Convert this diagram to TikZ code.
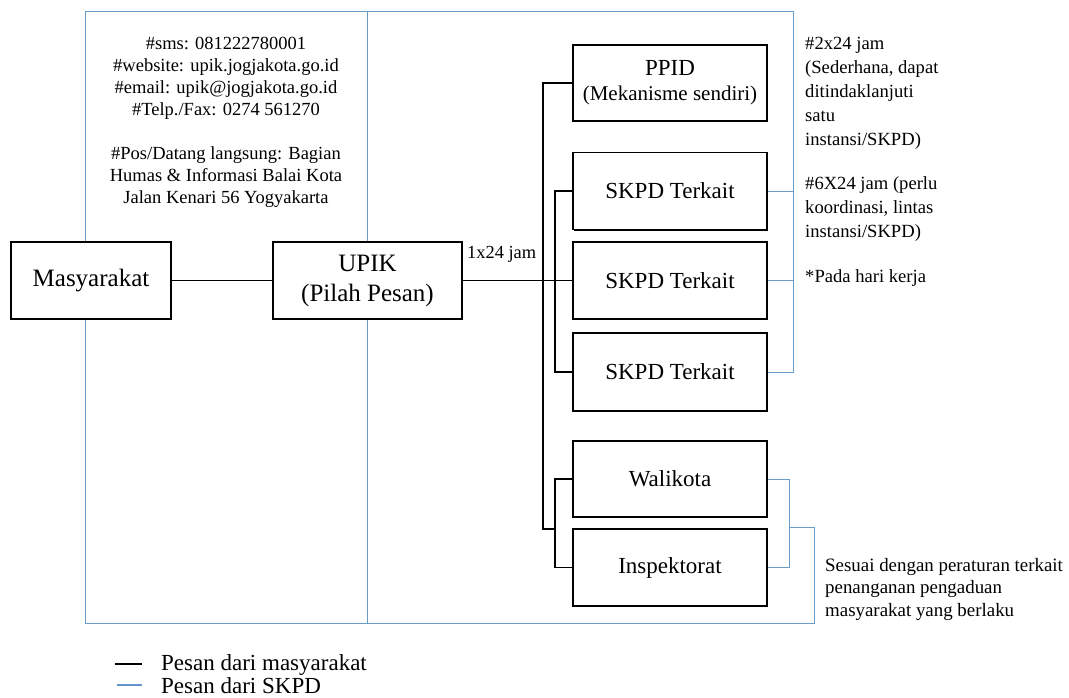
\documentclass[tikz,border=0pt]{standalone}
\usepackage{fontspec}
\setmainfont{Liberation Serif}
\usetikzlibrary{shadows}
\definecolor{skpdblue}{RGB}{105,155,200}
\definecolor{legblue}{RGB}{100,150,205}
\begin{document}
\begin{tikzpicture}[x=1pt,y=-1pt,
  box/.style={draw, line width=1.4pt, fill=white, inner sep=0pt, align=center,
    minimum width=194pt, minimum height=77pt,
    drop shadow={shadow xshift=1.1pt, shadow yshift=-1.1pt, fill=black, opacity=1}},
  bigfont/.style={font=\fontsize{25}{30}\selectfont},
  midfont/.style={font=\fontsize{23}{27}\selectfont},
  blk/.style={line width=1.1pt, black},
  blu/.style={line width=1pt, skpdblue},
  note/.style={inner sep=0pt, align=left, font=\fontsize{18.6}{24}\selectfont},
  info/.style={inner sep=0pt, align=center, font=\fontsize{18.5}{22}\selectfont},
  legtext/.style={inner sep=0pt, anchor=west, font=\fontsize{23}{23}\selectfont}
]
\useasboundingbox (0,0) rectangle (1069,697);
\fill[white] (0,0) rectangle (1069,697);

% coordinates of the blue frame
\coordinate (tl) at (85,11);
\coordinate (tm) at (367,11);
\coordinate (tr) at (793,11);
\coordinate (bl) at (85,623);
\coordinate (br) at (814,623);
\coordinate (jb) at (789,527);
\coordinate (j1) at (543,529);
\coordinate (j2) at (555,529);

% boxes
\node[box, bigfont, minimum width=160pt] (mas) at (91,280.5) {Masyarakat};
\node[box, bigfont, minimum width=189pt] (upik) at (367.5,280.5) {UPIK\\(Pilah Pesan)};
\node[box, minimum height=76pt, font=\fontsize{21}{25}\selectfont] (ppid) at (670,83) {{\fontsize{23}{25}\selectfont PPID}\\(Mekanisme sendiri)};
\node[box, midfont] (sk1) at (670,191) {SKPD Terkait};
\node[box, midfont] (sk2) at (670,280.5) {SKPD Terkait};
\node[box, midfont, minimum height=78pt] (sk3) at (670,372) {SKPD Terkait};
\node[box, midfont, minimum height=76pt] (wali) at (670,479) {Walikota};
\node[box, midfont] (insp) at (670,567.5) {Inspektorat};

% blue connectors (Pesan dari SKPD)
\draw[blu] (mas.north -| tl) -- (tl) -- (tr) -- (tr |- sk3.east) -- (sk3.east);
\draw[blu] (sk1.east) -- (sk1.east -| tr);
\draw[blu] (sk2.east) -- (sk2.east -| tr);
\draw[blu] (tm) -- (upik.north -| tm);
\draw[blu] (mas.south -| tl) -- (bl) -- (br) -- (br |- jb) -- (jb);
\draw[blu] (upik.south -| tm) -- (tm |- bl);
\draw[blu] (wali.east) -- (wali.east -| jb) -- (insp.east -| jb) -- (insp.east);

% black connectors (Pesan dari masyarakat)
\draw[blk] (mas.east) -- (upik.west);
\draw[blk] (upik.east) -- (sk2.west);
\draw[blk] (ppid.west) -| (j1) -- (j2);
\draw[blk] (sk1.west) -- (sk1.west -| j2) -- (sk3.west -| j2) -- (sk3.west);
\draw[blk] (wali.west) -- (wali.west -| j2) -- (insp.west -| j2) -- (insp.west);

% labels
\node[inner sep=0pt, anchor=west, font=\fontsize{18.4}{22}\selectfont] (lbl) at (467,254) {1x24 jam};

\node[info, anchor=north] (info1) at (226,37) {\#sms: 081222780001\\\#website: upik.jogjakota.go.id\\\#email: upik@jogjakota.go.id\\\#Telp./Fax: 0274 561270};
\node[info, anchor=north] (info2) at (226,146) {\#Pos/Datang langsung: Bagian\\Humas \& Informasi Balai Kota\\Jalan Kenari 56 Yogyakarta};

\node[note, anchor=north west] (n1) at (805,37) {\#2x24 jam\\(Sederhana, dapat\\ditindaklanjuti\\satu\\instansi/SKPD)};
\node[note, anchor=north west] (n2) at (805,176) {\#6X24 jam (perlu\\koordinasi, lintas\\instansi/SKPD)};
\node[note, anchor=north west] (n3) at (805,269) {*Pada hari kerja};

\node[inner sep=0pt, align=left, anchor=north west, font=\fontsize{18.9}{22.5}\selectfont] (n4) at (825,558) {Sesuai dengan peraturan terkait\\penanganan pengaduan\\masyarakat yang berlaku};

% legend
\coordinate (l1a) at (115,664);
\coordinate (l1b) at (142,664);
\coordinate (l2a) at (117,685);
\coordinate (l2b) at (142,685);
\draw[line width=2pt, black] (l1a) -- (l1b);
\draw[line width=2pt, legblue] (l2a) -- (l2b);
\node[legtext] (leg1) at (161,665) {Pesan dari masyarakat};
\node[legtext] (leg2) at (161,686) {Pesan dari SKPD};
\end{tikzpicture}
\end{document}
